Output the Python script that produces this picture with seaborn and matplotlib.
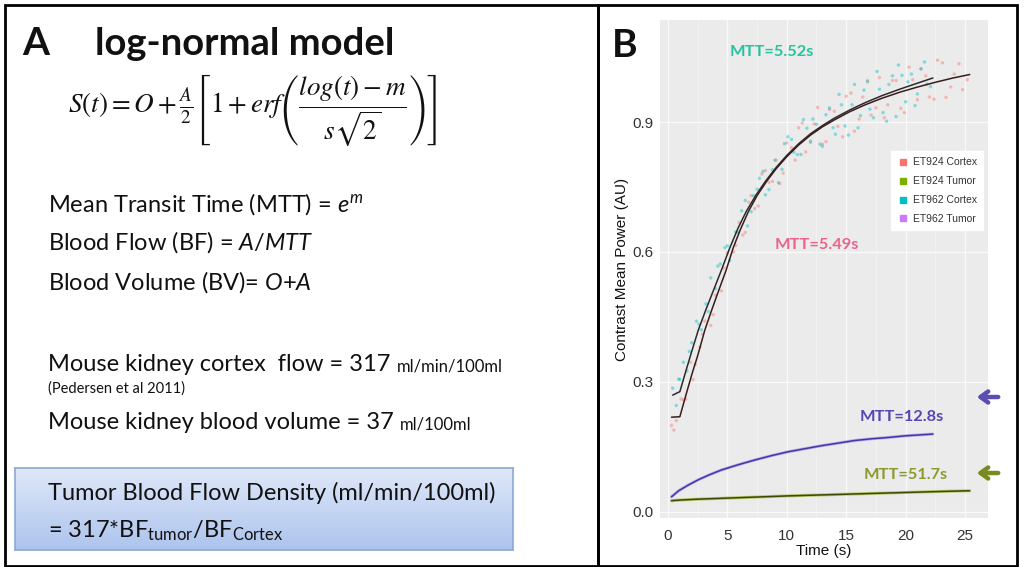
import numpy as np
import pandas as pd
import matplotlib
matplotlib.use('Agg')
import matplotlib.pyplot as plt
import seaborn as sns
from matplotlib.patches import Rectangle
from matplotlib.lines import Line2D

# Panel B: contrast mean power over time

# ET924 cortex data (pink points)
t_924c = [0.3, 0.7, 1.1, 1.5, 1.9, 2.3, 2.7, 3.1, 3.6, 4.0, 4.5, 5.0, 5.5, 6.0, 6.5,
          7.0, 7.6, 8.2, 8.8, 9.4, 10.0, 10.7, 11.3, 12.0, 12.6, 13.3, 14.0, 14.7,
          15.4, 16.1, 16.8, 17.5, 18.2, 18.9, 19.6, 20.3, 21.0, 21.7, 22.4, 23.1,
          23.8, 24.5, 25.2,
          0.5, 1.3, 2.1, 2.9, 3.8, 4.7, 5.7, 6.3, 6.8, 7.3, 7.9, 8.5, 9.1, 9.7, 10.4,
          11.0, 11.6, 12.3, 13.0, 13.6, 14.3, 15.0, 15.7, 16.4, 17.1, 17.8, 18.5,
          19.2, 19.9, 20.6, 21.3, 22.0, 22.7, 23.4, 24.1, 24.8]
v_924c = [0.199, 0.21, 0.26, 0.26, 0.345, 0.34, 0.38, 0.44, 0.43, 0.50, 0.51, 0.598,
          0.60, 0.668, 0.645, 0.73, 0.706, 0.788, 0.763, 0.758, 0.852, 0.812, 0.898,
          0.853, 0.934, 0.855, 0.925, 0.866, 0.967, 0.907, 0.996, 0.933, 0.91, 0.996,
          0.932, 1.027, 0.952, 1.007, 0.953, 1.037, 0.981, 1.035, 0.998,
          0.188, 0.258, 0.305, 0.41, 0.455, 0.563, 0.615, 0.639, 0.715, 0.70, 0.78,
          0.761, 0.812, 0.782, 0.841, 0.887, 0.831, 0.896, 0.849, 0.929, 0.89, 0.96,
          0.879, 0.958, 0.916, 1.003, 0.94, 0.996, 0.922, 0.998, 1.023, 0.958, 1.043,
          0.957, 1.011, 0.975]

# ET962 cortex data (teal points)
t_962c = [0.4, 0.7, 1.0, 1.3, 1.6, 2.0, 2.4, 2.8, 3.2, 3.6, 4.0, 4.4, 4.8, 5.2, 5.7,
          6.2, 6.7, 7.2, 7.7, 8.2, 8.8, 9.3, 9.8, 10.4, 10.9, 11.4, 12.0, 12.5, 13.0,
          13.6, 14.1, 14.6, 15.2, 15.7, 16.2, 16.8, 17.3, 17.8, 18.4, 18.9, 19.4,
          20.0, 20.5, 21.0, 21.6, 22.1,
          0.9, 1.8, 2.6, 3.4, 4.2, 5.0, 5.9, 6.5, 7.0, 7.5, 8.0, 8.5, 9.0, 9.6, 10.1,
          10.6, 11.2, 11.7, 12.2, 12.8, 13.3, 13.9, 14.4, 14.9, 15.5, 16.0, 16.5,
          17.0, 17.6, 18.1, 18.6, 19.2, 19.7, 20.2, 20.8, 21.3, 21.8]
v_962c = [0.285, 0.245, 0.305, 0.345, 0.325, 0.39, 0.44, 0.42, 0.48, 0.54, 0.515,
          0.572, 0.61, 0.58, 0.646, 0.695, 0.66, 0.73, 0.77, 0.732, 0.79, 0.76, 0.85,
          0.86, 0.825, 0.906, 0.856, 0.895, 0.844, 0.933, 0.872, 0.94, 0.87, 0.987,
          0.915, 0.993, 0.91, 0.976, 0.902, 1.007, 1.032, 0.947, 1.011, 0.965, 1.039,
          0.982,
          0.306, 0.37, 0.433, 0.462, 0.567, 0.614, 0.645, 0.719, 0.693, 0.745, 0.786,
          0.744, 0.812, 0.791, 0.866, 0.83, 0.825, 0.886, 0.907, 0.849, 0.917, 0.887,
          0.964, 0.891, 0.94, 0.887, 0.974, 0.93, 1.017, 0.922, 0.987, 0.913, 1.008,
          0.993, 0.938, 1.023, 0.988]

# fitted curves
fit_924c_t = [0.3, 1.0, 1.5, 2.0, 2.5, 3.1, 3.7, 4.3, 4.9, 5.5, 6.1, 6.8, 7.5, 8.3,
              9.1, 10.0, 11.0, 12.0, 13.0, 14.0, 15.3, 16.6, 18.0, 19.5, 21.0, 22.5,
              24.0, 25.4]
fit_924c_v = [0.218, 0.219, 0.268, 0.316, 0.36, 0.419, 0.467, 0.513, 0.558, 0.61,
              0.652, 0.695, 0.730, 0.763, 0.792, 0.820, 0.847, 0.870, 0.889, 0.905,
              0.924, 0.940, 0.955, 0.969, 0.981, 0.992, 1.002, 1.010]
fit_962c_t = [0.4, 1.0, 1.5, 2.0, 2.55, 3.2, 3.9, 4.5, 5.2, 5.9, 6.6, 7.4, 8.2, 9.1,
              10.0, 11.0, 12.0, 13.0, 14.0, 15.3, 16.6, 18.0, 19.5, 21.0, 22.3]
fit_962c_v = [0.269, 0.277, 0.324, 0.37, 0.419, 0.467, 0.516, 0.558, 0.609, 0.655,
              0.694, 0.731, 0.763, 0.795, 0.823, 0.850, 0.873, 0.892, 0.909, 0.928,
              0.945, 0.961, 0.976, 0.990, 1.002]
fit_962t_t = [0.3, 0.9, 1.7, 2.6, 3.5, 4.5, 5.9, 7.3, 8.7, 10.1, 11.5, 12.9, 14.3,
              15.7, 17.1, 18.5, 20.0, 22.3]
fit_962t_v = [0.034, 0.048, 0.061, 0.074, 0.085, 0.096, 0.108, 0.119, 0.129, 0.138,
              0.145, 0.152, 0.158, 0.164, 0.168, 0.171, 0.175, 0.179]
fit_924t_t = [0.3, 1.0, 2.5, 5.0, 7.5, 10.0, 12.5, 15.0, 17.5, 20.0, 22.5, 25.4]
fit_924t_v = [0.025, 0.0265, 0.0285, 0.031, 0.0335, 0.036, 0.038, 0.040, 0.042,
              0.044, 0.046, 0.048]

groups = ['ET924 Cortex', 'ET924 Tumor', 'ET962 Cortex', 'ET962 Tumor']
group_colors = ['#F8766D', '#7CAE00', '#00BFC4', '#C77CFF']
mtt_labels = ['MTT=5.49s', 'MTT=51.7s', 'MTT=5.52s', 'MTT=12.8s']

W, H = 1025, 567
def fx(px):
    return px / W
def fy(py):
    return 1 - py / H

sns.set_style('darkgrid', {'axes.facecolor': '#ebebeb', 'grid.color': 'white'})
plt.rcParams['font.family'] = ['Liberation Sans', 'DejaVu Sans']
plt.rcParams['mathtext.fontset'] = 'custom'
plt.rcParams['mathtext.rm'] = 'Lato'
plt.rcParams['mathtext.it'] = 'Lato:italic'
plt.rcParams['mathtext.bf'] = 'Lato:bold'

fig = plt.figure(figsize=(10.25, 5.67), dpi=100)
fig.patch.set_facecolor('white')

# panel borders
fig.add_artist(Rectangle((fx(5), fy(566)), fx(598) - fx(5), fy(5) - fy(566),
                         transform=fig.transFigure, fill=False, ec='black', lw=2))
fig.add_artist(Rectangle((fx(598), fy(566)), fx(1017) - fx(598), fy(5) - fy(566),
                         transform=fig.transFigure, fill=False, ec='black', lw=2))

# ---- Panel A: text ----
txt = '#111111'
fig.text(fx(22), fy(55), 'A', family='Lato', weight='bold', fontsize=28, color=txt, va='baseline')
fig.text(fx(95), fy(55), 'log-normal model', family='Lato', weight='bold', fontsize=27.5,
         color=txt, va='baseline')
fig.text(fx(68), fy(110),
         r'$S(t) = O + \frac{A}{2}\left[1 + erf\left(\dfrac{log(t) - m}{s\sqrt{2}}\right)\right]$',
         fontsize=19.5, color=txt, va='center', math_fontfamily='stix')

fs_main = 17
fig.text(fx(48), fy(212), r'Mean Transit Time (MTT) = $e^{m}$', family='Lato',
         fontsize=fs_main, color=txt, va='baseline')
fig.text(fx(48), fy(250), r'Blood Flow (BF) = $A/MTT$', family='Lato',
         fontsize=fs_main, color=txt, va='baseline')
fig.text(fx(48), fy(290), r'Blood Volume (BV)= $O$+$A$', family='Lato',
         fontsize=fs_main, color=txt, va='baseline')

fig.canvas.draw()
renderer = fig.canvas.get_renderer()
t1 = fig.text(fx(48), fy(371), 'Mouse kidney cortex  flow = 317', family='Lato',
              fontsize=fs_main, color=txt, va='baseline')
bb = t1.get_window_extent(renderer)
fig.text(bb.x1 / W + fx(6), fy(371), 'ml/min/100ml', family='Lato', fontsize=12,
         color=txt, va='baseline')
fig.text(fx(48), fy(393), '(Pedersen et al 2011)', family='Lato', fontsize=10.5,
         color=txt, va='baseline')
t2 = fig.text(fx(48), fy(429), 'Mouse kidney blood volume = 37', family='Lato',
              fontsize=fs_main, color=txt, va='baseline')
bb = t2.get_window_extent(renderer)
fig.text(bb.x1 / W + fx(6), fy(429), 'ml/100ml', family='Lato', fontsize=12,
         color=txt, va='baseline')

# blue gradient box
box_ax = fig.add_axes([fx(15), fy(550), fx(513) - fx(15), fy(468) - fy(550)])
grad = np.linspace(0, 1, 100).reshape(-1, 1)
box_ax.imshow(grad, aspect='auto', cmap=matplotlib.colors.LinearSegmentedColormap.from_list(
    'bluebox', ['#dfe8f8', '#adc4ee']), extent=[0, 1, 0, 1])
box_ax.set_xticks([])
box_ax.set_yticks([])
for sp in box_ax.spines.values():
    sp.set_visible(True)
    sp.set_color('#8ba8d8')
    sp.set_linewidth(1.2)
fig.text(fx(48), fy(500), 'Tumor Blood Flow Density (ml/min/100ml)', family='Lato',
         fontsize=fs_main, color=txt, va='baseline')
fig.text(fx(48), fy(537), r'= 317*BF$_{\mathrm{tumor}}$/BF$_{\mathrm{Cortex}}$', family='Lato',
         fontsize=fs_main, color=txt, va='baseline')

# ---- Panel B: curves ----
fig.text(fx(612), fy(57), 'B', family='Lato', weight='bold', fontsize=28, color=txt, va='baseline')

ax = fig.add_axes([fx(660), fy(518), fx(988) - fx(660), fy(20) - fy(518)])

pts = pd.concat([
    pd.DataFrame({'t': t_924c, 'v': v_924c, 'group': groups[0]}),
    pd.DataFrame({'t': t_962c, 'v': v_962c, 'group': groups[2]}),
])
sns.scatterplot(data=pts, x='t', y='v', hue='group',
                palette={groups[0]: group_colors[0], groups[2]: group_colors[2]},
                s=6, alpha=0.45, linewidth=0, legend=False, ax=ax)
sns.lineplot(x=fit_962c_t, y=fit_962c_v, color='#2b2b2b', lw=1.1, ax=ax)
sns.lineplot(x=fit_924c_t, y=fit_924c_v, color='#3a1c1c', lw=1.1, ax=ax)
sns.lineplot(x=fit_962t_t, y=fit_962t_v, color='#9a86f0', lw=2.2, alpha=0.6, ax=ax)
sns.lineplot(x=fit_962t_t, y=fit_962t_v, color='#4535a8', lw=1.1, ax=ax)
sns.lineplot(x=fit_924t_t, y=fit_924t_v, color='#8fb020', lw=2.2, alpha=0.6, ax=ax)
sns.lineplot(x=fit_924t_t, y=fit_924t_v, color='#3d4a00', lw=1.1, ax=ax)

ax.set_xlim(-0.67, 26.94)
ax.set_ylim(-0.015, 1.136)
ax.set_xticks([0, 5, 10, 15, 20, 25])
ax.set_yticks([0.0, 0.3, 0.6, 0.9])
ax.set_yticklabels(['0.0', '0.3', '0.6', '0.9'])
ax.set_xticks([2.5, 7.5, 12.5, 17.5, 22.5], minor=True)
ax.grid(True, which='major', color='white', lw=1.0, alpha=0.7)
ax.grid(True, which='minor', color='white', lw=0.5, alpha=0.5)
ax.tick_params(axis='both', which='major', length=3, color='#777777', labelsize=11,
               labelcolor='#333333', pad=2, direction='out')
ax.tick_params(axis='x', which='major', pad=5)
ax.tick_params(axis='both', which='minor', length=0)
ax.set_xlabel('Time (s)', fontsize=11, color='#111111', labelpad=1)
ax.set_ylabel('Contrast Mean Power (AU)', fontsize=11, color='#111111', labelpad=2)
for sp in ax.spines.values():
    sp.set_visible(False)

# MTT annotations
mtt_style = dict(fontsize=11.8, weight='bold', family='Lato', ha='center', va='center')
ax.text(8.75, 1.062, mtt_labels[2], color='#25c4a0', **mtt_style)
ax.text(12.5, 0.616, mtt_labels[0], color='#e8648a', **mtt_style)
ax.text(19.7, 0.218, mtt_labels[3], color='#5645b5', **mtt_style)
ax.text(20.0, 0.084, mtt_labels[1], color='#8c9a2c', **mtt_style)

handles = [Line2D([], [], marker='s', ls='', color=c, markersize=5) for c in group_colors]
leg = ax.legend(handles, groups, loc='upper left', bbox_to_anchor=(fx(886), fy(146)),
                bbox_transform=fig.transFigure, fontsize=7.5, frameon=True, fancybox=False,
                framealpha=1, edgecolor='white', facecolor='white', handlelength=1,
                handletextpad=0.5, labelspacing=0.85, borderpad=0.6)
for t in leg.get_texts():
    t.set_color('#333333')

# arrows next to the tumor curves
ax.annotate('', xy=(974, H - 397), xytext=(1001, H - 397), xycoords='figure pixels',
            textcoords='figure pixels', annotation_clip=False,
            arrowprops=dict(arrowstyle='->,head_length=0.55,head_width=0.4', lw=3.2,
                            color='#5a4fb0'))
ax.annotate('', xy=(974, H - 473), xytext=(1001, H - 473), xycoords='figure pixels',
            textcoords='figure pixels', annotation_clip=False,
            arrowprops=dict(arrowstyle='->,head_length=0.55,head_width=0.4', lw=3.2,
                            color='#7a8a20'))

plt.savefig('out.png', dpi=100)
